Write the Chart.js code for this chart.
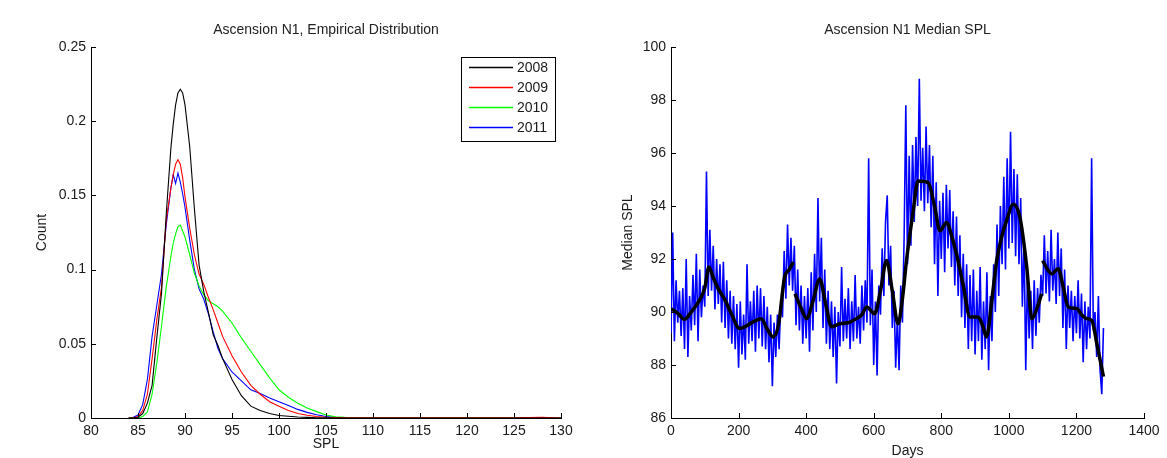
<!DOCTYPE html>
<html>
<head>
<meta charset="utf-8">
<script src="https://cdn.jsdelivr.net/npm/chart.js@4.4.1/dist/chart.umd.min.js"></script>
<style>
html, body { margin: 0; padding: 0; background: #fff; }
#wrap { position: relative; width: 1167px; height: 458px; }
canvas { position: absolute; top: 0; }
#dist { left: 0; }
#median { left: 580px; }
</style>
</head>
<body>
<div id="wrap">
	<canvas id="dist" width="580" height="458"></canvas>
	<canvas id="median" width="587" height="458"></canvas>
</div>
<script>
// left panel: empirical distribution per year
const splLevels = [84, 84.5, 85, 85.5, 86, 86.5, 87, 87.5, 88, 88.5, 88.75, 89, 89.25, 89.5, 89.75, 90, 90.5, 91, 91.5, 92,
	92.5, 93, 93.5, 94, 95, 96, 97, 98, 99, 100, 101, 102, 103, 104, 105, 106, 107, 108, 110, 115, 120, 125, 128, 130];
const count2008 = [0, 0, 0.0005, 0.003, 0.010, 0.022, 0.054, 0.084, 0.137, 0.182, 0.198, 0.211, 0.219, 0.2215, 0.219, 0.211, 0.183, 0.141, 0.103, 0.085,
	0.071, 0.056, 0.049, 0.04, 0.026, 0.015, 0.008, 0.005, 0.003, 0.0017, 0.0012, 0.0007, 0.0004, 0.0002, 0.0001, 0, 0, 0, 0, 0, 0, 0, 0, 0];
const count2009 = [0, 0, 0.001, 0.005, 0.016, 0.04, 0.066, 0.088, 0.133, 0.155, 0.164, 0.171, 0.174, 0.171, 0.162, 0.149, 0.128, 0.11, 0.097, 0.09,
	0.081, 0.073, 0.064, 0.055, 0.042, 0.031, 0.022, 0.016, 0.011, 0.008, 0.005, 0.003, 0.0018, 0.001, 0.0005, 0.0003, 0.0002, 0.0001, 0.0001, 0.0001, 0.0002, 0.0002, 0.0005, 0];
const count2010 = [0, 0, 0, 0.001, 0.004, 0.016, 0.037, 0.062, 0.088, 0.109, 0.118, 0.124, 0.129, 0.13, 0.126, 0.122, 0.11, 0.0975, 0.089, 0.083,
	0.079, 0.077, 0.075, 0.072, 0.064, 0.054, 0.045, 0.036, 0.027, 0.019, 0.014, 0.01, 0.0068, 0.0043, 0.002, 0.0008, 0.0004, 0.0002, 0.0001, 0.0001, 0.0003, 0.0002, 0.0001, 0];
const count2011 = [0, 0.0005, 0.002, 0.009, 0.026, 0.055, 0.076, 0.097, 0.13, 0.155, 0.164, 0.158, 0.165, 0.159, 0.151, 0.142, 0.12, 0.1, 0.087, 0.08,
	0.07, 0.058, 0.047, 0.04, 0.031, 0.025, 0.019, 0.0165, 0.0135, 0.011, 0.0085, 0.0058, 0.0038, 0.0022, 0.001, 0.0004, 0.0001, 0, 0, 0, 0, 0, 0, 0];
const yearLabels = ['2008', '2009', '2010', '2011'];
const yearCounts = [count2008, count2009, count2010, count2011];
const yearColors = ['#000000', '#ff0000', '#00ff00', '#0000ff'];

// right panel: daily median SPL, read every 5 days
const medianSPL = [
	89.2, 93.0, 88.9, 91.2, 89.6, 90.8, 89.1, 90.9, 88.6, 92.0, 88.3, 90.6, 89.3, 91.4, 89.5, 92.2, 88.9, 91.6, 89.8, 91.0,
	90.2, 95.3, 90.6, 93.1, 90.8, 92.5, 90.1, 92.0, 90.3, 91.8, 89.6, 91.9, 89.4, 91.2, 89.0, 90.8, 88.8, 90.6, 88.6, 90.3,
	87.9, 90.4, 88.4, 89.9, 88.2, 91.8, 88.8, 90.4, 88.9, 90.8, 88.5, 91.0, 89.0, 90.9, 88.7, 90.6, 88.6, 90.2, 88.1, 89.9,
	87.2, 89.6, 88.3, 89.9, 88.6, 90.4, 89.8, 92.3, 90.5, 93.3, 91.0, 92.8, 90.8, 92.5, 89.5, 91.6, 89.3, 91.0, 88.8, 90.6,
	89.0, 90.9, 88.5, 91.5, 89.3, 92.2, 90.0, 94.3, 90.4, 92.8, 89.4, 91.6, 88.8, 90.8, 88.6, 90.4, 88.3, 90.2, 87.3, 90.0,
	88.7, 91.7, 88.9, 90.5, 89.0, 90.9, 88.6, 90.4, 88.9, 91.4, 89.0, 90.2, 88.8, 91.0, 89.3, 91.2, 89.6, 95.8, 89.5, 91.6,
	88.0, 90.4, 87.6, 91.0, 89.9, 92.4, 90.6, 93.4, 94.4, 91.0, 92.5, 89.4, 90.8, 87.9, 89.8, 87.8, 91.0, 89.6, 92.8, 97.8,
	91.8, 95.9, 92.5, 96.3, 93.4, 96.6, 94.0, 98.8, 94.2, 96.2, 93.8, 97.0, 94.1, 96.3, 93.2, 95.9, 91.8, 94.9, 90.6, 94.2,
	92.0, 94.5, 91.5, 94.8, 92.4, 94.6, 91.7, 93.8, 91.0, 93.6, 90.6, 92.9, 89.8, 92.2, 89.4, 91.8, 88.6, 91.4, 88.9, 91.6,
	88.4, 90.8, 88.9, 91.7, 88.2, 90.4, 88.6, 91.5, 87.8, 90.6, 88.9, 91.8, 90.0, 93.3, 90.6, 94.0, 91.8, 95.1, 91.6, 95.8,
	92.4, 96.8, 92.6, 95.4, 92.1, 95.2, 91.8, 94.3, 90.2, 92.7, 87.8, 91.4, 89.0, 90.8, 88.6, 91.2, 89.1, 90.9, 89.6, 91.4,
	90.6, 92.9, 90.7, 92.3, 90.4, 93.1, 90.8, 92.0, 90.3, 93.0, 90.6, 92.4, 89.4, 91.6, 88.6, 91.0, 89.4, 90.8, 88.9, 90.6,
	89.2, 91.2, 89.0, 90.7, 88.1, 90.4, 88.6, 90.2, 89.0, 95.8, 89.3, 90.0, 88.3, 90.6, 87.8, 86.9, 89.4
];
const medianDays = medianSPL.map((v, i) => i * 5);

// smoothed curve, one piece per year (null = break)
const smoothDays = [0, 20, 40, 60, 84, 100, 112, 125, 139, 160, 178, 203, 220, 237, 255, 267, 285, 302, 318, 336, 350, 362,
	364,
	367, 385, 401, 420, 440, 458, 475, 500, 525, 549, 565, 579, 603, 620, 638, 655, 672, 685, 697, 717, 731, 761, 780, 796,
	816, 830, 845, 865, 885, 909, 922, 934, 950, 964, 980, 993, 1013, 1033, 1053, 1068, 1085, 1097,
	1098,
	1100, 1115, 1127, 1146, 1160, 1176, 1201, 1215, 1230, 1245, 1262, 1280];
const smoothSPL = [90.13, 89.95, 89.72, 90.0, 90.44, 90.9, 91.7, 91.3, 90.9, 90.45, 89.95, 89.38, 89.45, 89.58, 89.7, 89.75, 89.35, 89.06, 89.5, 91.3, 91.6, 91.88,
	null,
	90.69, 90.15, 89.75, 90.4, 91.25, 90.3, 89.44, 89.56, 89.6, 89.75, 89.9, 90.19, 89.94, 90.8, 91.94, 90.8, 89.56, 90.5, 91.94, 93.82, 94.94, 94.88, 94.0, 93.07,
	93.38, 92.9, 92.19, 91.0, 89.81, 89.81, 89.5, 89.06, 90.5, 91.94, 92.9, 93.44, 94.07, 93.56, 91.69, 89.75, 90.2, 90.69,
	null,
	91.94, 91.6, 91.44, 91.63, 91.0, 90.19, 90.13, 89.9, 89.75, 89.69, 88.7, 87.56];

const FONT = "'Liberation Sans', Arial, sans-serif";
Chart.defaults.font.family = FONT;
Chart.defaults.font.size = 14;
Chart.defaults.color = '#1a1a1a';
Chart.defaults.animation = false;

function fixWidth(w) {
	return scale => { scale.width = w; };
}
function fixHeight(h) {
	return scale => { scale.height = h; };
}

// matlab draws its tick marks pointing into the axes
const inwardTicks = {
	id: 'inwardTicks',
	afterDatasetsDraw(chart) {
		const ctx = chart.ctx;
		ctx.save();
		ctx.strokeStyle = '#000';
		ctx.lineWidth = 1;
		const sx = chart.scales.x, sy = chart.scales.y;
		sx.ticks.forEach(t => {
			const p = Math.round(sx.getPixelForValue(t.value)) + 0.5;
			ctx.beginPath();
			ctx.moveTo(p, sx.top);
			ctx.lineTo(p, sx.top - 5);
			ctx.stroke();
		});
		sy.ticks.forEach(t => {
			const p = Math.round(sy.getPixelForValue(t.value)) + 0.5;
			ctx.beginPath();
			ctx.moveTo(sy.right, p);
			ctx.lineTo(sy.right + 5, p);
			ctx.stroke();
		});
		ctx.restore();
	}
};

// matlab style legend with a framed box inside the axes
const boxLegend = {
	id: 'boxLegend',
	afterDraw(chart, args, opts) {
		if (!opts.width) return;
		const { ctx, chartArea } = chart;
		const x = Math.round(chartArea.left + opts.x), y = Math.round(chartArea.top + opts.y);
		ctx.save();
		ctx.fillStyle = '#fff';
		ctx.fillRect(x, y, opts.width, opts.height);
		ctx.strokeStyle = '#000';
		ctx.lineWidth = 1;
		ctx.strokeRect(x + 0.5, y + 0.5, opts.width, opts.height);
		ctx.font = '14px ' + FONT;
		ctx.textBaseline = 'middle';
		chart.data.datasets.forEach((ds, i) => {
			const ly = y + opts.firstRow + i * opts.rowGap;
			ctx.strokeStyle = ds.borderColor;
			ctx.lineWidth = 1.3;
			ctx.beginPath();
			ctx.moveTo(x + 8, ly + 0.5);
			ctx.lineTo(x + 52, ly + 0.5);
			ctx.stroke();
			ctx.fillStyle = '#1a1a1a';
			ctx.fillText(ds.label, x + 56, ly + 1);
		});
		ctx.restore();
	}
};

function axisLook() {
	return {
		border: { display: true, color: '#000', width: 1 },
		grid: { display: false, drawTicks: false }
	};
}

function titleOpts(text) {
	return {
		display: true,
		text: text,
		fullSize: false,
		font: { size: 14, weight: 'normal' },
		color: '#222',
		padding: { top: 21.6, bottom: 8.6 }
	};
}

new Chart(document.getElementById('dist'), {
	type: 'line',
	data: {
		datasets: yearLabels.map((label, i) => ({
			label: label,
			data: splLevels.map((s, j) => ({ x: s, y: yearCounts[i][j] })),
			borderColor: yearColors[i],
			backgroundColor: yearColors[i],
			borderWidth: 1.1,
			pointRadius: 0,
			tension: 0
		}))
	},
	plugins: [inwardTicks, boxLegend],
	options: {
		responsive: false,
		layout: { padding: { left: 0, right: 19, top: 0, bottom: 0 } },
		plugins: {
			legend: { display: false },
			tooltip: { enabled: false },
			title: titleOpts('Ascension N1, Empirical Distribution'),
			boxLegend: { x: 370, y: 10, width: 94, height: 84, firstRow: 10, rowGap: 20 }
		},
		scales: {
			x: {
				type: 'linear',
				min: 80,
				max: 130,
				afterFit: fixHeight(40),
				...axisLook(),
				ticks: { stepSize: 5, padding: 5, autoSkip: false, maxRotation: 0, callback: v => String(v) },
				title: { display: true, text: 'SPL', padding: { top: 0, bottom: 5 } }
			},
			y: {
				min: 0,
				max: 0.25,
				afterFit: fixWidth(91),
				...axisLook(),
				ticks: { stepSize: 0.05, padding: 5, callback: v => String(+v.toFixed(2)) },
				title: { display: true, text: 'Count', padding: { top: 34, bottom: 0 } }
			}
		}
	}
});

new Chart(document.getElementById('median'), {
	type: 'line',
	data: {
		datasets: [
			{
				label: 'Smoothed',
				data: smoothDays.map((d, i) => ({ x: d, y: smoothSPL[i] })),
				borderColor: '#000',
				borderWidth: 3.5,
				pointRadius: 0,
				cubicInterpolationMode: 'monotone',
				spanGaps: false,
				order: 0
			},
			{
				label: 'Median SPL',
				data: medianDays.map((d, i) => ({ x: d, y: medianSPL[i] })),
				borderColor: '#0000ff',
				borderWidth: 1.6,
				pointRadius: 0,
				tension: 0,
				order: 1
			}
		]
	},
	plugins: [inwardTicks],
	options: {
		responsive: false,
		layout: { padding: { left: 0, right: 23, top: 0, bottom: 0 } },
		plugins: {
			legend: { display: false },
			tooltip: { enabled: false },
			title: titleOpts('Ascension N1 Median SPL')
		},
		scales: {
			x: {
				type: 'linear',
				min: 0,
				max: 1400,
				afterFit: fixHeight(40),
				...axisLook(),
				ticks: { stepSize: 200, padding: 5, autoSkip: false, maxRotation: 0, callback: v => String(v) },
				title: { display: true, text: 'Days', padding: { top: 0, bottom: -2 } }
			},
			y: {
				min: 86,
				max: 100,
				afterFit: fixWidth(91),
				...axisLook(),
				ticks: { stepSize: 2, padding: 5, callback: v => String(v) },
				title: { display: true, text: 'Median SPL', padding: { top: 40, bottom: 0 } }
			}
		}
	}
});
</script>
</body>
</html>
